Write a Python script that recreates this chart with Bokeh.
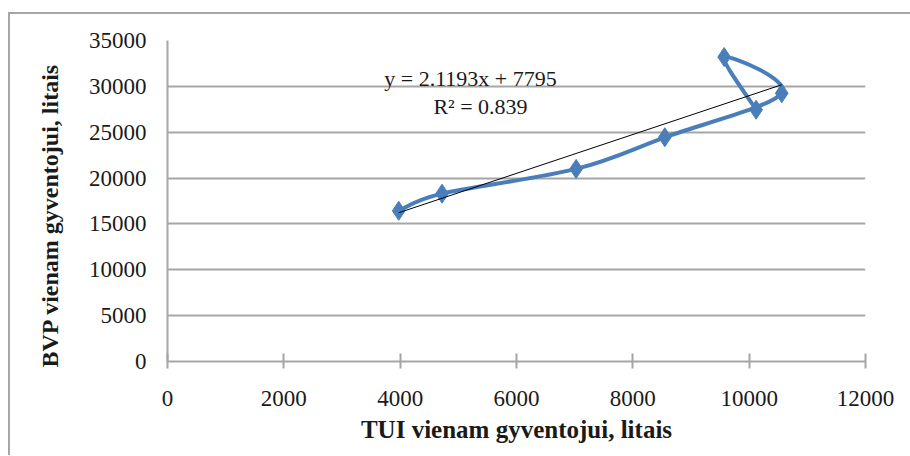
import numpy as np
from bokeh.plotting import figure
from bokeh.models import Range1d, Label, FixedTicker, ColumnDataSource, Spacer, Title
from bokeh.layouts import column, row
from bokeh.embed import file_html
from bokeh.resources import INLINE

# data (chronological order)
tui = [3975, 4720, 7025, 8550, 10560, 9570, 10120]
bvp = [16430, 18300, 21000, 24450, 29250, 33200, 27450]
x_ticks = [0, 2000, 4000, 6000, 8000, 10000, 12000]
y_ticks = [0, 5000, 10000, 15000, 20000, 25000, 30000, 35000]
slope, intercept = 2.1193, 7795
r2 = 0.839

BLUE = "#4a7ebb"
GRAY = "#a6a6a6"
FONT = "Liberation Serif"

p = figure(frame_width=698, frame_height=321, output_backend="svg", toolbar_location=None,
           x_range=Range1d(0, 12000), y_range=Range1d(0, 35000),
           min_border_left=157, min_border_right=45, min_border_top=26, min_border_bottom=94)
p.outline_line_color = None
p.background_fill_color = "white"
p.border_fill_color = "white"

# smoothed line (Excel-style) via bezier segments built from the data
X = np.array(tui, dtype=float)
Y = np.array(bvp, dtype=float)
Xp = np.concatenate([[X[0]], X, [X[-1]]])
Yp = np.concatenate([[Y[0]], Y, [Y[-1]]])
n = len(X)
cx0 = [X[i] + (Xp[i + 2] - Xp[i]) / 6 for i in range(n - 1)]
cy0 = [Y[i] + (Yp[i + 2] - Yp[i]) / 6 for i in range(n - 1)]
cx1 = [X[i + 1] - (Xp[i + 3] - Xp[i + 1]) / 6 for i in range(n - 1)]
cy1 = [Y[i + 1] - (Yp[i + 3] - Yp[i + 1]) / 6 for i in range(n - 1)]
seg = ColumnDataSource(dict(x0=X[:-1], y0=Y[:-1], x1=X[1:], y1=Y[1:],
                            cx0=cx0, cy0=cy0, cx1=cx1, cy1=cy1))
p.bezier(x0="x0", y0="y0", x1="x1", y1="y1", cx0="cx0", cy0="cy0", cx1="cx1", cy1="cy1",
         source=seg, line_color=BLUE, line_width=4)
p.scatter(tui, bvp, marker="diamond", size=19, fill_color=BLUE, line_color=BLUE)

# linear trendline
tx = [min(tui), max(tui)]
ty = [slope * v + intercept for v in tx]
p.line(tx, ty, line_color="black", line_width=1)

p.add_layout(Label(x=5209, y=30826, text=f"y = {slope}x + {intercept}", text_font=FONT,
                   text_font_size="22px", text_align="center", text_baseline="middle",
                   text_color="#1a1a1a"))
p.add_layout(Label(x=5381, y=27772, text=f"R² = {r2}", text_font=FONT,
                   text_font_size="22px", text_align="center", text_baseline="middle",
                   text_color="#1a1a1a"))

# axes
p.xaxis.ticker = FixedTicker(ticks=x_ticks)
p.yaxis.ticker = FixedTicker(ticks=y_ticks)
p.xaxis.minor_tick_line_color = None
p.yaxis.minor_tick_line_color = None
p.xaxis.axis_line_color = GRAY
p.xaxis.axis_line_width = 2
p.xaxis.major_tick_line_color = GRAY
p.xaxis.major_tick_line_width = 2
p.xaxis.major_tick_in = 8
p.xaxis.major_tick_out = 7
p.xaxis.major_label_standoff = 22
p.yaxis.axis_line_color = GRAY
p.yaxis.axis_line_width = 2
p.yaxis.major_tick_line_color = None
p.yaxis.major_tick_in = 0
p.yaxis.major_tick_out = 0
p.yaxis.major_label_standoff = 21
for ax in (p.xaxis, p.yaxis):
    ax.major_label_text_font = FONT
    ax.major_label_text_font_size = "23px"
    ax.major_label_text_color = "#1a1a1a"

p.xaxis.axis_label = "TUI vienam gyventojui, litais"
p.xaxis.axis_label_text_font = FONT
p.xaxis.axis_label_text_font_size = "25px"
p.xaxis.axis_label_text_font_style = "bold"
p.xaxis.axis_label_text_color = "#1a1a1a"
p.xaxis.axis_label_standoff = 7

ytitle = Title(text="BVP vienam gyventojui, litais", align="left", offset=-6,
               text_font=FONT, text_font_size="24px", text_font_style="bold",
               text_color="#1a1a1a", standoff=46)
p.add_layout(ytitle, "left")

p.xgrid.grid_line_color = None
p.ygrid.grid_line_color = GRAY
p.ygrid.grid_line_width = 2

box = column(p, styles={"border-left": f"2px solid {GRAY}", "border-top": f"2px solid {GRAY}"})
root = column(Spacer(height=12), row(Spacer(width=8), box))

open("out.html", "w").write(file_html(root, INLINE))
